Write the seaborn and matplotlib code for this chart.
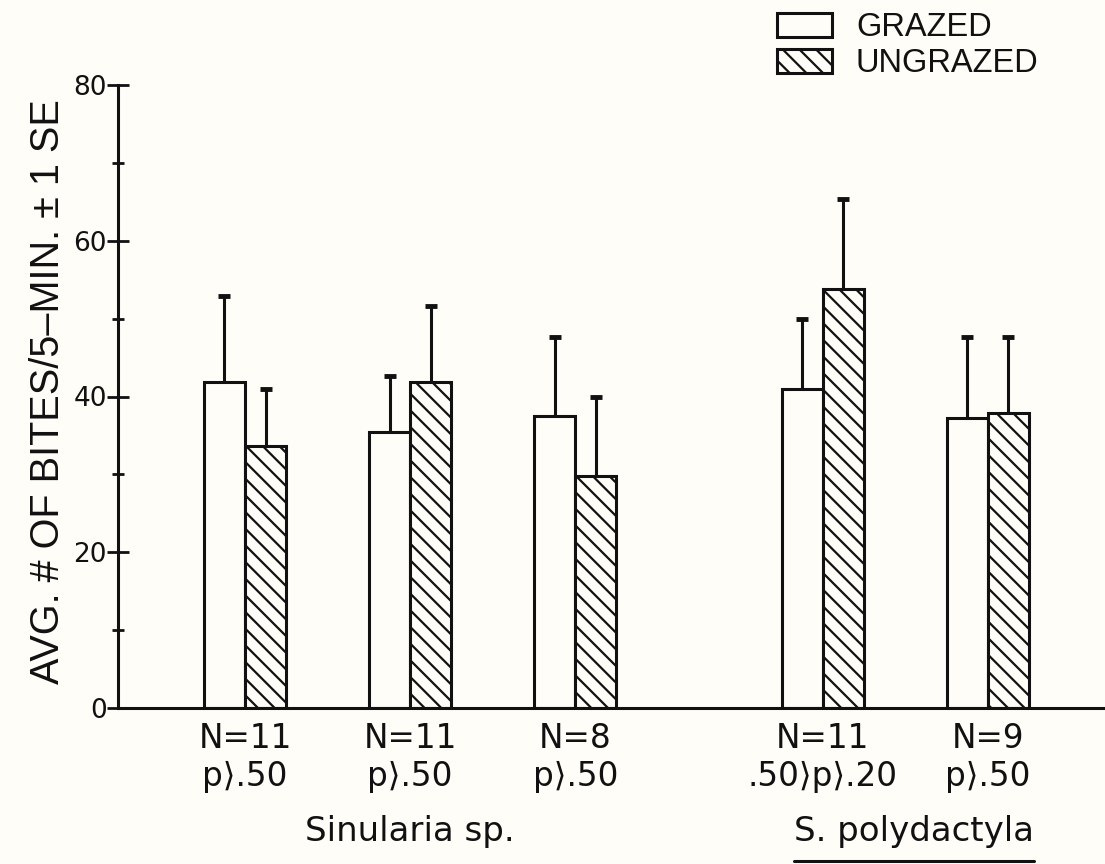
import numpy as np
import pandas as pd
import matplotlib
matplotlib.use("Agg")
import matplotlib.pyplot as plt
from matplotlib.lines import Line2D
import seaborn as sns

# ---- data ----
group_labels = ["N=11\np\u27e9.50", "N=11\np\u27e9.50", "N=8\np\u27e9.50",
                "N=11\n.50\u27e9p\u27e9.20", "N=9\np\u27e9.50"]
treatments = ["GRAZED", "UNGRAZED"]
grazed_mean = [41.9, 35.4, 37.5, 41.0, 37.2]
grazed_se = [11.0, 7.2, 10.2, 9.0, 10.4]
ungrazed_mean = [33.6, 41.8, 29.8, 53.8, 37.9]
ungrazed_se = [7.4, 9.8, 10.1, 11.5, 9.8]
species_labels = ["Sinularia sp.", "S. polydactyla"]
y_label = "AVG. # OF BITES/5\u2013MIN. \u00b1 1 SE"

# ---- layout (group positions on the x axis) ----
group_pos = [0, 1, 2, 3.5, 4.5]
species_pos = [1.0, 4.05]

bg = "#fffdf8"
ink = "#111111"

sns.set_style("ticks")
plt.rcParams["font.family"] = ["DejaVu Sans"]
plt.rcParams["hatch.linewidth"] = 1.6
plt.rcParams["hatch.color"] = ink

df = pd.DataFrame({
    "pos": group_pos * 2,
    "value": grazed_mean + ungrazed_mean,
    "treatment": [treatments[0]] * len(group_pos) + [treatments[1]] * len(group_pos),
})

fig = plt.figure(figsize=(11.05, 8.64), dpi=100, facecolor=bg)
ax = fig.add_axes([118 / 1105, 156 / 864, (1105 - 118) / 1105, (708 - 85) / 864])
ax.set_facecolor(bg)

sns.barplot(data=df, x="pos", y="value", hue="treatment", hue_order=treatments,
            native_scale=True, width=0.5, dodge=True, errorbar=None,
            palette={t: bg for t in treatments}, saturation=1,
            edgecolor=ink, linewidth=2.2, legend=False, ax=ax)

for bar in ax.containers[1]:
    bar.set_hatch("\\\\")

# upward-only error bars at bar centres
for cont, means, ses in [(ax.containers[0], grazed_mean, grazed_se),
                         (ax.containers[1], ungrazed_mean, ungrazed_se)]:
    xs = [p.get_x() + p.get_width() / 2 for p in cont]
    eb = ax.errorbar(xs, means, yerr=[np.zeros(len(ses)), ses], fmt="none",
                     ecolor=ink, elinewidth=2.2, capsize=4.5, capthick=3.5, zorder=1)
    for cl in eb[1]:
        if np.allclose(cl.get_ydata(), means):
            cl.set_visible(False)

ax.set_xlim(-0.77, 5.21)
ax.set_ylim(0, 80)
ax.set_yticks([0, 20, 40, 60, 80])
ax.set_yticks([10, 30, 50, 70], minor=True)
ax.set_xticks(group_pos)
ax.set_xticklabels(group_labels, fontsize=23.5, linespacing=1.2)
ax.tick_params(axis="x", length=0, pad=10, colors=ink)
ax.tick_params(axis="y", which="major", direction="inout", length=16, width=2,
               labelsize=19, pad=0, colors=ink)
ax.tick_params(axis="y", which="minor", direction="inout", length=9, width=2, colors=ink)
ax.set_xlabel("")
ax.set_ylabel("")
for s in ["top", "right"]:
    ax.spines[s].set_visible(False)
for s in ["left", "bottom"]:
    ax.spines[s].set_linewidth(2.2)
    ax.spines[s].set_color(ink)

fig.text(48 / 1105, 1 - 392 / 864, y_label, rotation=90, ha="center", va="center",
         fontsize=28.5, family=["Liberation Sans", "DejaVu Sans"], color=ink)

# species labels
trans = matplotlib.transforms.blended_transform_factory(ax.transData, fig.transFigure)
texts = []
for lab, xp in zip(species_labels, species_pos):
    texts.append(ax.text(xp, 1 - 832 / 864, lab, transform=trans, ha="center", va="center",
                         fontsize=24.5, color=ink))

fig.canvas.draw()
bb = texts[1].get_window_extent()
inv = fig.transFigure.inverted()
(x0, _), (x1, _) = inv.transform([(bb.x0, 0), (bb.x1, 0)])
fig.add_artist(Line2D([x0, x1], [1 - 861 / 864] * 2, transform=fig.transFigure,
                      color=ink, lw=2.2))

# legend
leg = fig.legend([ax.containers[0], ax.containers[1]], treatments,
                 loc="upper left", bbox_to_anchor=(761 / 1105, 1 + 4 / 864),
                 bbox_transform=fig.transFigure, frameon=False, borderpad=0,
                 prop={"family": ["Liberation Sans", "DejaVu Sans"], "size": 23.5},
                 handlelength=1.66, handleheight=0.77, handletextpad=0.75,
                 labelspacing=0.15)
for t in leg.get_texts():
    t.set_color(ink)

fig.savefig("out.png", dpi=100, facecolor=bg)
